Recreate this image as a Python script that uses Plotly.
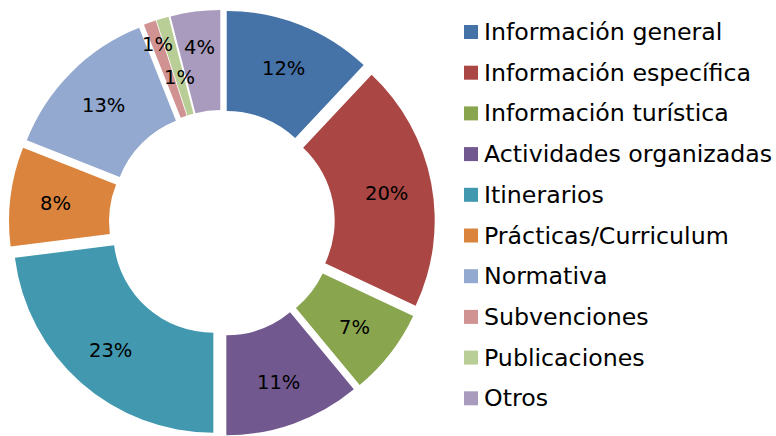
import math
import plotly.graph_objects as go

# Categories and their share of the total (percent)
categorias = [
    "Información general",
    "Información específica",
    "Información turística",
    "Actividades organizadas",
    "Itinerarios",
    "Prácticas/Curriculum",
    "Normativa",
    "Subvenciones",
    "Publicaciones",
    "Otros",
]
porcentajes = [12, 20, 7, 11, 23, 8, 13, 1, 1, 4]

colores = [
    "#4572A7", "#AA4643", "#89A54E", "#71588F", "#4198AF",
    "#DB843D", "#93A9CF", "#D19392", "#B9CD96", "#A99BBD",
]

# Radial placement of each percentage label, relative to the middle of the ring
# (the narrow slices near the top are nudged in/out so their labels don't collide)
radio_etiqueta = [1.0, 1.0, 1.0, 1.0, 1.0, 1.0, 1.0, 1.14, 0.91, 1.06]

W, H = 776, 436
FONT = "DejaVu Sans, Verdana, sans-serif"
HOLE = 0.5
PULL = 0.065
DOM_X = [0.0, 0.572]
DOM_Y = [0.0, 1 - 10 / H]

fig = go.Figure()

fig.add_trace(go.Pie(
    labels=categorias,
    values=porcentajes,
    marker=dict(colors=colores, line=dict(width=0)),
    hole=HOLE,
    pull=[PULL] * len(porcentajes),
    sort=False,
    direction="clockwise",
    rotation=0,
    textinfo="none",
    domain=dict(x=DOM_X, y=DOM_Y),
    showlegend=False,
    hoverinfo="label+percent",
))

# Pie geometry in pixels, following plotly's own sizing of a pulled pie
avail_w = W * (DOM_X[1] - DOM_X[0])
avail_h = H * (DOM_Y[1] - DOM_Y[0])
R = min(avail_w, avail_h) / (2 + 2 * PULL)
cx = W * (DOM_X[0] + DOM_X[1]) / 2
cy = H * (1 - DOM_Y[0]) - avail_h / 2
r_mid = (R * (1 + HOLE) / 2 + PULL * R) * 1.03

annotations = []
total = sum(porcentajes)
acum = 0
for v, k in zip(porcentajes, radio_etiqueta):
    ang = 2 * math.pi * (acum + v / 2) / total
    acum += v
    rr = r_mid * k
    px = cx + rr * math.sin(ang)
    py = cy - rr * math.cos(ang) + 1.5
    annotations.append(dict(
        text=f"{v}%", xref="paper", yref="paper",
        x=px / W, y=1 - py / H, xanchor="center", yanchor="middle",
        showarrow=False, font=dict(family=FONT, size=19.5, color="#000000"),
    ))

# Legend drawn as colour squares with text beside them
row0, step = 32, 40.7
shapes = []
for i, (nombre, color) in enumerate(zip(categorias, colores)):
    yc = row0 + i * step
    shapes.append(dict(
        type="rect", xref="paper", yref="paper",
        x0=464 / W, x1=478 / W,
        y0=1 - (yc + 7) / H, y1=1 - (yc - 7) / H,
        fillcolor=color, line=dict(width=0),
    ))
    annotations.append(dict(
        text=nombre, xref="paper", yref="paper",
        x=482 / W, y=1 - yc / H, xanchor="left", yanchor="middle",
        showarrow=False, font=dict(family=FONT, size=23.7, color="#000000"),
    ))

fig.update_layout(
    width=W, height=H,
    margin=dict(l=0, r=0, t=0, b=0),
    paper_bgcolor="white",
    plot_bgcolor="white",
    shapes=shapes,
    annotations=annotations,
)

fig.write_html("out.html")
